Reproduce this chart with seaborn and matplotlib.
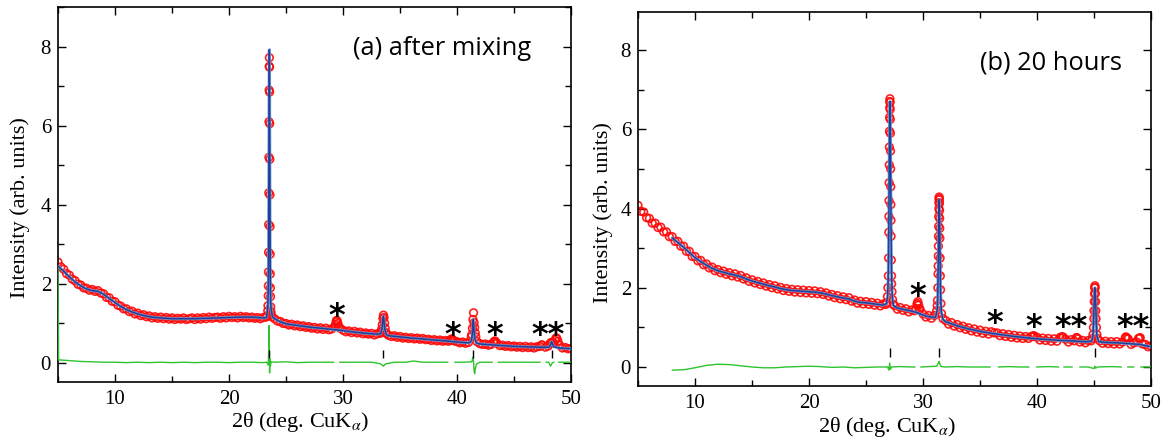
import numpy as np
import matplotlib
matplotlib.use("Agg")
import matplotlib.pyplot as plt
from matplotlib.ticker import MultipleLocator
import seaborn as sns

# ---------------------------------------------------------------
# Powder XRD patterns: observed (circles), calculated (line),
# difference (green), Bragg positions (ticks), impurity peaks (*)
# ---------------------------------------------------------------

# scan grid of the observed pattern (deg. 2theta)
scan_grid = np.arange(5.0, 50.001, 0.25)

# ---------------- (a) after mixing ----------------
a_obs_grid = [
    2.55, 2.43, 2.37, 2.26, 2.22, 2.12, 2.08, 1.99,   # 5.0 - 6.75
    1.97, 1.90, 1.89, 1.84, 1.86, 1.81, 1.83, 1.77,   # 7.0 - 8.75
    1.75, 1.66, 1.65, 1.56, 1.55, 1.46, 1.44, 1.37,   # 9.0 - 10.75
    1.37, 1.30, 1.31, 1.24, 1.26, 1.20, 1.22, 1.17,   # 11.0 - 12.75
    1.19, 1.14, 1.17, 1.13, 1.16, 1.12, 1.15, 1.11,   # 13.0 - 14.75
    1.14, 1.10, 1.13, 1.11, 1.14, 1.10, 1.12, 1.14,   # 15.0 - 16.75
    1.10, 1.14, 1.11, 1.15, 1.12, 1.16, 1.13, 1.15,   # 17.0 - 18.75
    1.16, 1.13, 1.17, 1.14, 1.18, 1.15, 1.17, 1.14,   # 19.0 - 20.75
    1.18, 1.15, 1.17, 1.14, 1.16, 1.13, 1.15, 1.12,   # 21.0 - 22.75
    1.15, 1.16, 5.20, 1.17, 1.12, 1.06, 1.05, 1.00,   # 23.0 - 24.75
    1.00, 0.96, 0.98, 0.94, 0.96, 0.92, 0.94, 0.90,   # 25.0 - 26.75
    0.92, 0.88, 0.90, 0.86, 0.89, 0.85, 0.88, 0.84,   # 27.0 - 28.75
    0.86, 0.92, 1.05, 0.88, 0.83, 0.79, 0.81, 0.77,   # 29.0 - 30.75
    0.80, 0.76, 0.78, 0.74, 0.76, 0.73, 0.75, 0.71,   # 31.0 - 32.75
    0.74, 0.75, 1.13, 0.77, 0.70, 0.67, 0.69, 0.65,   # 33.0 - 34.75
    0.67, 0.63, 0.65, 0.62, 0.64, 0.61, 0.63, 0.60,   # 35.0 - 36.75
    0.62, 0.59, 0.60, 0.57, 0.59, 0.56, 0.58, 0.55,   # 37.0 - 38.75
    0.57, 0.55, 0.60, 0.56, 0.54, 0.51, 0.53, 0.50,   # 39.0 - 40.75
    0.52, 0.66, 1.02, 0.54, 0.49, 0.47, 0.48, 0.45,   # 41.0 - 42.75
    0.47, 0.54, 0.50, 0.44, 0.45, 0.42, 0.44, 0.41,   # 43.0 - 44.75
    0.43, 0.40, 0.42, 0.39, 0.42, 0.39, 0.41, 0.38,   # 45.0 - 46.75
    0.41, 0.42, 0.45, 0.40, 0.43, 0.52, 0.50, 0.63,   # 47.0 - 48.75
    0.45, 0.38, 0.39, 0.36, 0.37,                     # 49.0 - 50.0
]
# extra observed points across the sharp reflections
a_obs_fine_x = [
    23.36, 23.40, 23.42, 23.44, 23.45, 23.46, 23.47, 23.48, 23.49, 23.51,
    23.52, 23.53, 23.54, 23.55, 23.56, 23.57, 23.58, 23.59, 23.60, 23.61,
    23.62, 23.63, 23.64, 23.66, 23.68, 23.71,
    29.35, 29.40, 29.45, 29.55, 29.62,
    33.35, 33.40, 33.45, 33.55, 33.60, 33.65, 33.70, 33.82,
    39.45, 39.55, 39.65,
    41.30, 41.35, 41.40, 41.45, 41.55, 41.60, 41.65,
    43.20, 43.33, 43.42,
    47.43,
    48.15, 48.35, 48.60, 48.68, 48.85,
]
a_obs_fine_y = [
    1.20, 1.32, 1.45, 1.70, 1.95, 2.30, 2.80, 3.50, 4.30, 6.10,
    6.90, 7.50, 7.72, 7.48, 6.85, 6.05, 5.15, 4.25, 3.45, 2.75,
    2.25, 1.90, 1.68, 1.42, 1.30, 1.22,
    0.97, 1.05, 1.08, 1.00, 0.92,
    0.79, 0.86, 0.97, 1.21, 1.15, 1.01, 0.88, 0.74,
    0.58, 0.61, 0.58,
    0.72, 0.88, 1.10, 1.27, 0.90, 0.76, 0.66,
    0.52, 0.56, 0.52,
    0.46,
    0.49, 0.52, 0.57, 0.63, 0.55,
]
a_calc_x = [
    5.0, 5.5, 6.0, 6.5, 7.0, 7.5, 8.0, 8.5, 9.0, 9.5,
    10.0, 10.5, 11.0, 11.5, 12.0, 12.5, 13.0, 13.5, 14.0, 14.5,
    15.0, 16.0, 17.0, 18.0, 19.0, 20.0, 21.0, 22.0, 22.5, 23.0,
    23.30, 23.40, 23.44, 23.46, 23.48, 23.50, 23.52, 23.54, 23.56, 23.58,
    23.60, 23.62, 23.64, 23.68, 23.80, 24.0, 24.5, 25.0, 25.5, 26.0,
    27.0, 28.0, 29.0, 30.0, 31.0, 32.0, 33.0, 33.30, 33.40, 33.45,
    33.50, 33.54, 33.58, 33.63, 33.68, 33.80, 34.0, 35.0, 36.0, 37.0,
    38.0, 39.0, 40.0, 41.0, 41.20, 41.30, 41.36, 41.40, 41.43, 41.46,
    41.50, 41.56, 41.70, 42.0, 43.0, 44.0, 45.0, 46.0, 47.0, 48.0,
    48.1, 48.2, 48.3, 48.4, 48.5, 49.0, 50.0,
]
a_calc_y = [
    2.45, 2.32, 2.18, 2.05, 1.95, 1.87, 1.83, 1.81, 1.74, 1.63,
    1.53, 1.43, 1.35, 1.29, 1.24, 1.20, 1.17, 1.15, 1.14, 1.13,
    1.12, 1.12, 1.12, 1.13, 1.14, 1.15, 1.16, 1.16, 1.15, 1.14,
    1.15, 1.40, 1.75, 2.30, 3.60, 5.40, 7.20, 7.92, 7.20, 5.40,
    3.60, 2.30, 1.75, 1.40, 1.18, 1.12, 1.04, 0.99, 0.97, 0.95,
    0.91, 0.88, 0.85, 0.82, 0.78, 0.75, 0.73, 0.74, 0.84, 0.95,
    1.12, 1.19, 1.12, 0.95, 0.84, 0.72, 0.69, 0.66, 0.63, 0.61,
    0.58, 0.56, 0.53, 0.51, 0.53, 0.62, 0.80, 1.00, 1.10, 1.00,
    0.80, 0.62, 0.51, 0.48, 0.46, 0.44, 0.42, 0.41, 0.40, 0.40,
    0.41, 0.46, 0.54, 0.46, 0.41, 0.38, 0.36,
]
nan = np.nan
a_diff_x = [
    5.0, 5.05, 6.0, 7.0, 8.0, 9.0, 10.0, 11.0, 12.0, 13.0,
    14.0, 15.0, 16.0, 17.0, 18.0, 19.0, 20.0, 21.0, 22.0, 23.0,
    23.30, 23.44, 23.48, 23.52, 23.54, 23.56, 23.58, 23.62, 23.70, 24.0,
    25.0, 26.0, 27.0, 28.0, 29.20, 29.25, 29.70, 30.5, 31.5, 32.5,
    33.30, 33.54, 33.75, 34.5, 35.5, 36.2, 37.0, 38.0, 39.20, 39.25,
    39.80, 40.5, 41.30, 41.40, 41.45, 41.50, 41.55, 41.60, 41.70, 42.0,
    43.10, 43.15, 43.60, 44.5, 45.5, 46.5, 47.30, 47.35, 47.80, 48.05,
    48.20, 48.35, 48.50, 48.55, 48.90, 49.5, 50.0,
]
a_diff_y = [
    2.45, 0.08, 0.06, 0.04, 0.03, 0.02, 0.02, 0.01, 0.02, 0.01,
    0.02, 0.01, 0.02, 0.01, 0.02, 0.02, 0.01, 0.02, 0.02, 0.01,
    0.02, -0.05, 0.30, 0.95, 0.45, -0.25, 0.10, -0.08, 0.03, 0.02,
    0.03, 0.01, 0.02, 0.02, 0.02, nan, 0.02, 0.02, 0.02, 0.02,
    -0.02, -0.08, -0.02, 0.02, 0.02, 0.05, 0.02, 0.02, 0.02, nan,
    0.02, 0.02, 0.03, 0.15, 0.05, -0.20, -0.27, -0.15, -0.03, 0.02,
    0.02, nan, 0.02, 0.02, 0.02, 0.02, 0.02, nan, 0.02, 0.02,
    -0.08, 0.00, 0.02, nan, 0.02, 0.02, 0.02,
]
a_bragg = [23.54, 33.54, 41.43, 48.30]
a_star_text = ["*", "*", "*", "**"]
a_star_x = [29.45, 39.65, 43.30, 47.98]
a_star_y = [1.39, 0.89, 0.89, 0.89]
a_label = "(a) after mixing"

# ---------------- (b) 20 hours ----------------
b_obs_grid = [
    4.08, 3.93, 3.91, 3.77, 3.75, 3.63, 3.63, 3.52,   # 5.0 - 6.75
    3.53, 3.41, 3.41, 3.29, 3.29, 3.17, 3.17, 3.05,   # 7.0 - 8.75
    3.05, 2.92, 2.92, 2.79, 2.79, 2.68, 2.69, 2.58,   # 9.0 - 10.75
    2.60, 2.50, 2.52, 2.43, 2.46, 2.38, 2.42, 2.34,   # 11.0 - 12.75
    2.38, 2.30, 2.35, 2.27, 2.31, 2.22, 2.25, 2.16,   # 13.0 - 14.75
    2.20, 2.12, 2.16, 2.08, 2.12, 2.04, 2.08, 2.00,   # 15.0 - 16.75
    2.05, 1.97, 2.01, 1.93, 1.98, 1.91, 1.96, 1.89,   # 17.0 - 18.75
    1.95, 1.88, 1.94, 1.87, 1.93, 1.86, 1.92, 1.85,   # 19.0 - 20.75
    1.90, 1.83, 1.87, 1.79, 1.83, 1.75, 1.80, 1.72,   # 21.0 - 22.75
    1.77, 1.70, 1.75, 1.66, 1.69, 1.61, 1.66, 1.59,   # 23.0 - 24.75
    1.65, 1.58, 1.63, 1.56, 1.61, 1.54, 1.59, 1.58,   # 25.0 - 26.75
    3.40, 2.10, 1.55, 1.46, 1.50, 1.43, 1.47, 1.39,   # 27.0 - 28.75
    1.44, 1.42, 1.60, 1.45, 1.34, 1.26, 1.30, 1.23,   # 29.0 - 30.75
    1.30, 1.55, 2.75, 1.22, 1.17, 1.08, 1.12, 1.03,   # 31.0 - 32.75
    1.07, 0.99, 1.03, 0.95, 0.99, 0.91, 0.96, 0.88,   # 33.0 - 34.75
    0.93, 0.85, 0.90, 0.83, 0.89, 0.86, 0.86, 0.79,   # 35.0 - 36.75
    0.84, 0.77, 0.82, 0.75, 0.80, 0.73, 0.78, 0.72,   # 37.0 - 38.75
    0.77, 0.72, 0.77, 0.78, 0.75, 0.68, 0.73, 0.67,   # 39.0 - 40.75
    0.72, 0.65, 0.71, 0.65, 0.74, 0.76, 0.70, 0.63,   # 41.0 - 42.75
    0.69, 0.66, 0.74, 0.63, 0.67, 0.61, 0.67, 0.66,   # 43.0 - 44.75
    1.42, 0.82, 0.66, 0.60, 0.65, 0.59, 0.64, 0.58,   # 45.0 - 46.75
    0.64, 0.58, 0.63, 0.74, 0.71, 0.57, 0.61, 0.63,   # 47.0 - 48.75
    0.73, 0.58, 0.57, 0.51, 0.53,                     # 49.0 - 50.0
]
b_obs_fine_x = [
    26.80, 26.88, 26.92, 26.96, 26.98, 27.01, 27.02, 27.03, 27.04, 27.05,
    27.06, 27.07, 27.08, 27.09, 27.10, 27.11, 27.12, 27.13, 27.14, 27.15,
    27.16, 27.17, 27.18, 27.19, 27.20, 27.22, 27.24, 27.28, 27.33, 27.40,
    29.40, 29.48, 29.55, 29.62, 29.68,
    31.20, 31.27, 31.30, 31.32, 31.33, 31.34, 31.35, 31.36, 31.37, 31.38,
    31.39, 31.40, 31.41, 31.42, 31.43, 31.44, 31.45, 31.46, 31.47, 31.48,
    31.52, 31.54, 31.57, 31.62,
    39.62, 39.70, 42.15, 42.30, 43.45, 43.60, 47.80, 47.90, 48.90, 49.05,
    44.86, 44.91, 44.95, 44.98, 45.02, 45.04, 45.06, 45.08, 45.10, 45.12,
    45.14, 45.16, 45.18, 45.21, 45.30,
]
b_obs_fine_y = [
    1.62, 1.78, 2.00, 2.30, 2.75, 3.80, 4.20, 4.65, 5.10, 5.55,
    5.95, 6.30, 6.55, 6.70, 6.77, 6.68, 6.50, 6.25, 5.90, 5.45,
    5.00, 4.55, 4.10, 3.70, 3.30, 2.70, 2.30, 1.90, 1.70, 1.58,
    1.47, 1.58, 1.65, 1.56, 1.47,
    1.42, 1.68, 2.00, 2.35, 2.55, 2.80, 3.05, 3.30, 3.55, 3.80,
    4.00, 4.15, 4.25, 4.29, 4.22, 4.13, 3.95, 3.75, 3.50, 3.25,
    2.30, 1.95, 1.60, 1.35,
    0.77, 0.79, 0.76, 0.75, 0.74, 0.71, 0.76, 0.73, 0.72, 0.74,
    0.72, 0.82, 1.00, 1.22, 1.65, 1.85, 2.00, 2.05, 2.00, 1.85,
    1.65, 1.42, 1.22, 1.00, 0.72,
]
b_calc_x = [
    8.0, 8.5, 9.0, 9.5, 10.0, 10.5, 11.0, 11.5, 12.0, 12.5,
    13.0, 13.5, 14.0, 14.5, 15.0, 15.5, 16.0, 16.5, 17.0, 17.5,
    18.0, 18.5, 19.0, 19.5, 20.0, 20.5, 21.0, 21.5, 22.0, 22.5,
    23.0, 23.5, 24.0, 24.5, 25.0, 25.5, 26.0, 26.5, 26.80, 26.90,
    26.96, 27.00, 27.04, 27.07, 27.10, 27.13, 27.16, 27.20, 27.24, 27.30,
    27.40, 27.75, 28.0, 28.5, 29.0, 29.5, 30.0, 30.5, 31.0, 31.10,
    31.25, 31.30, 31.34, 31.38, 31.42, 31.46, 31.50, 31.54, 31.60, 31.75,
    32.0, 32.5, 33.0, 33.5, 34.0, 34.5, 35.0, 36.0, 37.0, 38.0,
    39.0, 40.0, 41.0, 42.0, 43.0, 44.0, 44.5, 44.80, 44.90, 44.96,
    45.00, 45.04, 45.08, 45.12, 45.16, 45.20, 45.26, 45.40, 46.0, 47.0,
    48.0, 49.0, 49.5, 50.0,
]
b_calc_y = [
    3.26, 3.14, 3.02, 2.89, 2.76, 2.66, 2.57, 2.49, 2.43, 2.39,
    2.35, 2.32, 2.28, 2.22, 2.17, 2.13, 2.09, 2.05, 2.02, 1.98,
    1.95, 1.93, 1.92, 1.91, 1.90, 1.89, 1.87, 1.84, 1.80, 1.77,
    1.74, 1.72, 1.66, 1.63, 1.62, 1.60, 1.58, 1.56, 1.60, 1.80,
    2.40, 3.50, 5.20, 6.30, 6.70, 6.30, 5.20, 3.50, 2.40, 1.80,
    1.55, 1.49, 1.47, 1.44, 1.41, 1.37, 1.31, 1.27, 1.25, 1.25,
    1.45, 1.90, 2.70, 3.70, 4.22, 3.70, 2.70, 1.90, 1.40, 1.20,
    1.14, 1.09, 1.04, 1.00, 0.96, 0.93, 0.90, 0.85, 0.81, 0.77,
    0.74, 0.71, 0.69, 0.67, 0.66, 0.64, 0.64, 0.66, 0.78, 1.10,
    1.50, 1.88, 2.00, 1.88, 1.50, 1.10, 0.78, 0.64, 0.62, 0.61,
    0.59, 0.57, 0.54, 0.51,
]
b_diff_x = [
    8.0, 9.0, 10.0, 11.0, 12.0, 13.0, 14.0, 15.0, 16.0, 17.0,
    18.0, 19.0, 20.0, 21.0, 22.0, 23.0, 24.0, 25.0, 26.0, 26.90,
    27.00, 27.08, 27.14, 27.25, 28.0, 29.0, 29.30, 29.35, 29.80, 30.5,
    31.20, 31.35, 31.42, 31.50, 31.60, 32.0, 33.0, 34.0, 35.0, 35.90,
    35.95, 36.60, 37.5, 38.5, 39.30, 39.35, 39.95, 41.0, 41.90, 41.95,
    42.35, 43.10, 43.15, 43.75, 44.5, 45.00, 45.08, 45.15, 45.30, 46.5,
    47.40, 47.45, 47.95, 48.50, 48.55, 49.10, 50.0,
]
b_diff_y = [
    -0.08, -0.07, -0.02, 0.04, 0.07, 0.06, 0.03, 0.00, -0.02, -0.02,
    0.00, 0.01, 0.02, 0.01, -0.01, 0.00, -0.02, -0.01, 0.00, 0.00,
    -0.08, 0.10, -0.06, 0.00, 0.01, 0.00, 0.00, nan, 0.00, 0.01,
    0.02, 0.10, 0.14, 0.06, 0.01, 0.00, 0.01, 0.00, 0.00, 0.00,
    nan, 0.00, 0.01, 0.00, 0.00, nan, 0.00, 0.01, 0.00, nan,
    0.00, 0.00, nan, 0.00, 0.00, -0.04, 0.02, -0.03, 0.00, 0.01,
    0.00, nan, 0.00, 0.00, nan, 0.00, 0.00,
]
b_bragg = [27.10, 31.42, 45.08]
b_star_text = ["*", "*", "*", "**", "**"]
b_star_x = [29.53, 36.31, 39.71, 42.95, 48.40]
b_star_y = [1.99, 1.31, 1.20, 1.20, 1.20]
b_label = "(b) 20 hours"

# ---------------------------------------------------------------
sns.set_theme(style="ticks", rc={
    "axes.edgecolor": "black", "axes.labelcolor": "black",
    "xtick.color": "black", "ytick.color": "black", "text.color": "black",
})
plt.rcParams["font.family"] = ["Liberation Serif", "DejaVu Serif"]
plt.rcParams["mathtext.fontset"] = "stix"

OBS_EDGE = (1.0, 0.03, 0.03, 0.9)
CALC_LIGHT = "#6a9fdc"
CALC_DARK = "#1f3f9a"
DIFF_GREEN = "#2dc42d"
STAR_FS = 23

W, H = 1167, 448
fig = plt.figure(figsize=(W / 100, H / 100), dpi=100)
ax_a = fig.add_axes([58 / W, 1 - 382 / H, (571 - 58) / W, (382 - 7) / H])
ax_b = fig.add_axes([638 / W, 1 - 386 / H, (1151 - 638) / W, (386 - 12) / H])


def draw_panel(ax, obs_grid, fine_x, fine_y, calc_x, calc_y, diff_x, diff_y,
               bragg, bragg_span, star_text, star_x, star_y, label, label_xy,
               ylim, ylabel_xy, xlabel_xy):
    obs_x = np.concatenate([scan_grid, fine_x])
    obs_y = np.concatenate([obs_grid, fine_y])
    sns.scatterplot(x=obs_x, y=obs_y, ax=ax, marker="o", s=30,
                    facecolor="none", edgecolor=OBS_EDGE, linewidth=1.2,
                    zorder=2)
    sns.lineplot(x=calc_x, y=calc_y, ax=ax, sort=False, estimator=None,
                 color=CALC_LIGHT, linewidth=2.2, alpha=0.85, zorder=3)
    sns.lineplot(x=calc_x, y=calc_y, ax=ax, sort=False, estimator=None,
                 color=CALC_DARK, linewidth=1.1, zorder=4)
    ax.plot(diff_x, diff_y, color=DIFF_GREEN, linewidth=1.0, zorder=3)
    ax.vlines(bragg, bragg_span[0], bragg_span[1], color="black",
              linewidth=1.0, zorder=5)
    for txt, sx, sy in zip(star_text, star_x, star_y):
        ax.annotate(txt, (sx, sy), xytext=(0, -0.52 * STAR_FS),
                    textcoords="offset points", ha="center", va="baseline",
                    fontsize=STAR_FS, fontweight="bold",
                    family="DejaVu Sans", zorder=6)
    ax.text(label_xy[0], label_xy[1], label, ha="left", va="center",
            fontsize=18.4, family="Open Sans")

    ax.set_xlim(5, 50)
    ax.set_ylim(*ylim)
    ax.xaxis.set_major_locator(MultipleLocator(10))
    ax.xaxis.set_minor_locator(MultipleLocator(5))
    ax.yaxis.set_major_locator(MultipleLocator(2))
    ax.yaxis.set_minor_locator(MultipleLocator(1))
    ax.tick_params(which="both", direction="in", top=True, right=True,
                   width=1.0, labelsize=15)
    ax.tick_params(which="major", length=6)
    ax.tick_params(which="minor", length=4)
    ax.tick_params(axis="x", pad=6)
    ax.tick_params(axis="y", pad=5)
    for sp in ax.spines.values():
        sp.set_linewidth(1.2)
        sp.set_color("black")
    ax.set_xlabel(r"2θ (deg. CuK$_{\alpha}$)", fontsize=16)
    ax.set_ylabel("Intensity (arb. units)", fontsize=16)
    ax.xaxis.set_label_coords(*xlabel_xy)
    ax.yaxis.set_label_coords(*ylabel_xy)


draw_panel(ax_a, a_obs_grid, a_obs_fine_x, a_obs_fine_y, a_calc_x, a_calc_y,
           a_diff_x, a_diff_y, a_bragg, (0.12, 0.32), a_star_text, a_star_x,
           a_star_y, a_label, (30.9, 7.95), (-0.48, 9.0), (-0.055, 0.464),
           (0.472, -0.075))
draw_panel(ax_b, b_obs_grid, b_obs_fine_x, b_obs_fine_y, b_calc_x, b_calc_y,
           b_diff_x, b_diff_y, b_bragg, (0.25, 0.48), b_star_text, b_star_x,
           b_star_y, b_label, (35.0, 7.68), (-0.48, 8.96), (-0.049, 0.465),
           (0.485, -0.077))

fig.savefig("out.png", dpi=100)
